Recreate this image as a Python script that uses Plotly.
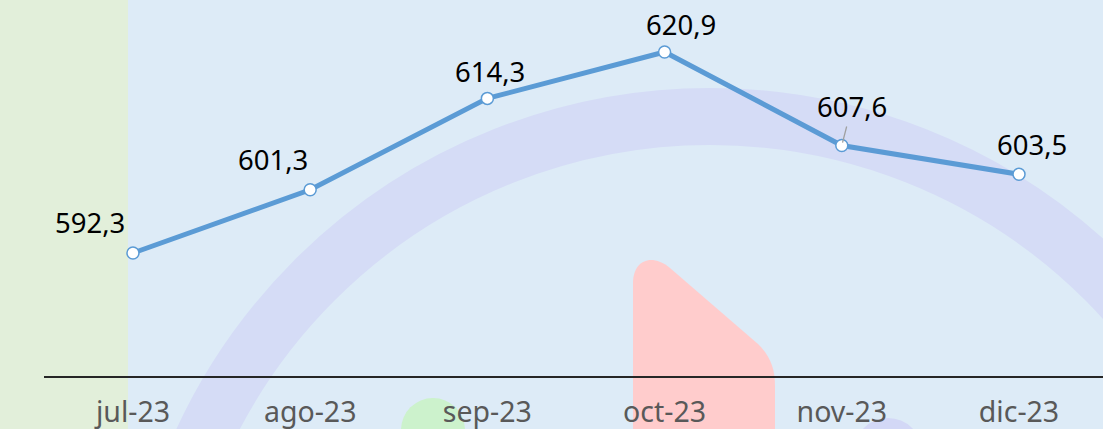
import plotly.graph_objects as go

# ---- data ----
months = ["jul-23", "ago-23", "sep-23", "oct-23", "nov-23", "dic-23"]
values = [592.3, 601.3, 614.3, 620.9, 607.6, 603.5]
labels = ["592,3", "601,3", "614,3", "620,9", "607,6", "603,5"]

# label offsets in pixels (dx, dy up)
label_dx = [-43, -37, 3, 16, 10, 13]
label_dy = [31, 30, 27, 28, 39, 30]

W, H = 1103, 429
ML, MR, MT, MB = 44, 0, 0, 53
PW, PH = W - ML - MR, H - MT - MB


def px(x):
    return (x - ML) / PW


def py(y):
    return (H - MB - y) / PH


BG = "#DDEBF7"
LINE = "#5B9BD5"

fig = go.Figure()

fig.add_trace(go.Scatter(
    x=months, y=values, mode="lines+markers",
    line=dict(color=LINE, width=5),
    marker=dict(size=12, color="white", line=dict(color=LINE, width=1.5)),
    hoverinfo="skip", showlegend=False,
))

shapes = []
# green strip on the left
shapes.append(dict(type="rect", xref="paper", yref="paper", layer="below",
                   x0=px(-5), x1=px(128), y0=py(H + 5), y1=py(-5),
                   fillcolor="#E2EFDA", line=dict(width=0)))
# decorative ring
cx, cy, rmid, thick = 710, 676, 559.5, 57
shapes.append(dict(type="circle", xref="paper", yref="paper", layer="below",
                   x0=px(cx - rmid), x1=px(cx + rmid), y0=py(cy + rmid), y1=py(cy - rmid),
                   fillcolor="rgba(0,0,0,0)", line=dict(color="#D5DCF6", width=thick)))
# red rounded shape
pts = [("M", 633, 440), ("L", 633, 283), ("C", 633, 262), ("", 650, 252), ("", 670, 268),
       ("L", 758, 344), ("C", 770, 356), ("", 775, 368), ("", 775, 386), ("L", 775, 440)]
path = ""
for cmd, x, y in pts:
    path += f"{cmd}{px(x):.5f},{py(y):.5f} "
path += "Z"
shapes.append(dict(type="path", xref="paper", yref="paper", layer="below", path=path,
                   fillcolor="#FFCCCC", line=dict(width=0)))
# green blob
gx, gy, gr = 433, 430, 32
shapes.append(dict(type="circle", xref="paper", yref="paper", layer="below",
                   x0=px(gx - gr), x1=px(gx + gr), y0=py(gy + gr), y1=py(gy - gr),
                   fillcolor="#CCF2CC", line=dict(width=0)))
# lavender blob
lx, ly, lr = 888, 452, 34
shapes.append(dict(type="circle", xref="paper", yref="paper", layer="below",
                   x0=px(lx - lr), x1=px(lx + lr), y0=py(ly + lr), y1=py(ly - lr),
                   fillcolor="#D3D8F6", line=dict(width=0)))

annotations = []
for i, (m, v, t) in enumerate(zip(months, values, labels)):
    if i == 4:
        annotations.append(dict(x=m, y=v, text=t, showarrow=True, ax=label_dx[i], ay=-label_dy[i],
                                arrowhead=0, arrowwidth=1.3, arrowcolor="#A0A0A0", standoff=3,
                                font=dict(size=27.5, color="black", family="Noto Sans")))
    else:
        annotations.append(dict(x=m, y=v, text=t, showarrow=False,
                                xshift=label_dx[i], yshift=label_dy[i],
                                font=dict(size=27.5, color="black", family="Noto Sans")))

fig.update_layout(
    width=W, height=H,
    margin=dict(l=ML, r=MR, t=MT, b=MB),
    paper_bgcolor=BG, plot_bgcolor="rgba(0,0,0,0)",
    shapes=shapes, annotations=annotations,
    font=dict(family="Noto Sans"),
    xaxis=dict(type="category", range=[-0.502, 5.474], showgrid=False, zeroline=False,
               showline=True, linecolor="#262626", linewidth=2, ticks="",
               tickfont=dict(size=28.5, color="#595959", family="Noto Sans"),
               ticklabelstandoff=10, fixedrange=True),
    yaxis=dict(range=[574.8, 628.3], showgrid=False, zeroline=False, showline=False,
               showticklabels=False, ticks="", fixedrange=True),
)

fig.write_html("out.html", config={"displayModeBar": False},
               post_script="document.body.style.margin='0';document.body.style.overflow='hidden';")
